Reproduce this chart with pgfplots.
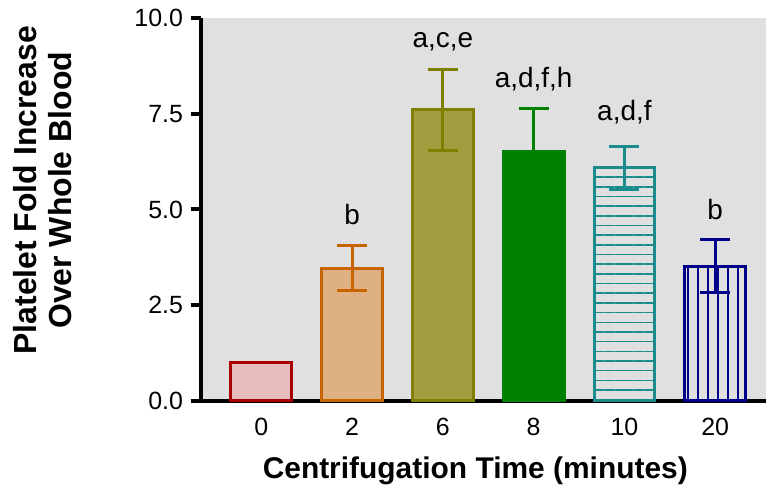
\documentclass[border=0pt]{standalone}
\usepackage{pgfplots}
\pgfplotsset{compat=1.18}
\usepackage{fontspec}
\setmainfont{Liberation Sans}
\usetikzlibrary{patterns.meta}

\definecolor{bg}{HTML}{E0E0E0}
\definecolor{c0f}{HTML}{E6BCBC}
\definecolor{c0e}{HTML}{A80000}
\definecolor{c2f}{HTML}{DEB083}
\definecolor{c2e}{HTML}{C86400}
\definecolor{c6f}{HTML}{A09E3E}
\definecolor{c6e}{HTML}{808000}
\definecolor{c8}{HTML}{008000}
\definecolor{c10}{HTML}{1A8C8C}
\definecolor{c20}{HTML}{000088}

\begin{document}
\begin{tikzpicture}
\begin{axis}[
    scale only axis,
    width=566pt, height=384pt,
    xmin=-0.66, xmax=5.56,
    ymin=0, ymax=10,
    axis lines*=left,
    axis line style={line width=4pt, black},
    axis background/.style={fill=bg},
    ybar, bar shift=0pt, bar width=0.67,
    xtick={0,1,2,3,4,5},
    xticklabels={0,2,6,8,10,20},
    xtick style={draw=none},
    ytick={0,2.5,5,7.5,10},
    ytick style={line width=4pt, black},
    tick align=outside,
    major tick length=11pt,
    yticklabel style={xshift=-4pt, /pgf/number format/.cd, fixed, fixed zerofill, precision=1},
    xticklabel style={yshift=-3pt},
    /pgf/number format/assume math mode=true,
    tick label style={font=\fontsize{25}{28}\selectfont},
    xlabel={\textbf{Centrifugation Time (minutes)}},
    xlabel style={font=\fontsize{30}{34}\selectfont, inner sep=0pt,
        at={(axis description cs:0.485,0)}, anchor=base, yshift=-78pt},
    ylabel={\textbf{Platelet Fold Increase}\\\textbf{Over Whole Blood}},
    ylabel style={font=\fontsize{32}{35}\selectfont, align=center, inner sep=0pt,
        at={(axis description cs:-0.334,0.55)}, anchor=north},
    clip=false,
    error bars/y dir=both,
    error bars/y explicit,
]
\addplot[draw=c0e, fill=c0f, line width=3pt] coordinates {(0,1.0)};
\addplot[draw=c2e, fill=c2f, line width=3pt,
    error bars/error bar style={line width=3pt, c2e},
    error bars/error mark options={rotate=90, mark size=15pt, line width=3pt, c2e}]
    coordinates {(1,3.47) +- (0,0.58)};
\addplot[draw=c6e, fill=c6f, line width=3pt,
    error bars/error bar style={line width=3pt, c6e},
    error bars/error mark options={rotate=90, mark size=15pt, line width=3pt, c6e}]
    coordinates {(2,7.6) +- (0,1.05)};
\addplot[draw=c8, fill=c8, line width=3pt,
    error bars/error bar style={line width=3pt, c8},
    error bars/error mark options={rotate=90, mark size=15pt, line width=3pt, c8}]
    coordinates {(3,6.51) +- (0,1.12)};
\addplot[draw=c10, line width=3pt,
    pattern={Lines[angle=0, distance=9.7pt, line width=1.5pt]}, pattern color=c10,
    error bars/error bar style={line width=3pt, c10},
    error bars/error mark options={rotate=90, mark size=15pt, line width=3pt, c10}]
    coordinates {(4,6.09) +- (0,0.56)};
\addplot[draw=c20, line width=3pt,
    pattern={Lines[angle=90, distance=10pt, line width=1.5pt]}, pattern color=c20,
    error bars/error bar style={line width=3pt, c20},
    error bars/error mark options={rotate=90, mark size=15pt, line width=3pt, c20}]
    coordinates {(5,3.52) +- (0,0.70)};
\node[font=\fontsize{28}{32}\selectfont] at (axis cs:1,4.87) {b};
\node[font=\fontsize{28}{32}\selectfont] at (axis cs:2,9.37) {a,c,e};
\node[font=\fontsize{28}{32}\selectfont] at (axis cs:3,8.39) {a,d,f,h};
\node[font=\fontsize{28}{32}\selectfont] at (axis cs:4,7.53) {a,d,f};
\node[font=\fontsize{28}{32}\selectfont] at (axis cs:5,5.0) {b};
\end{axis}
\path (current axis.south west) ++(-202pt,-86pt) rectangle ++(768pt,488pt);
\end{tikzpicture}
\end{document}
